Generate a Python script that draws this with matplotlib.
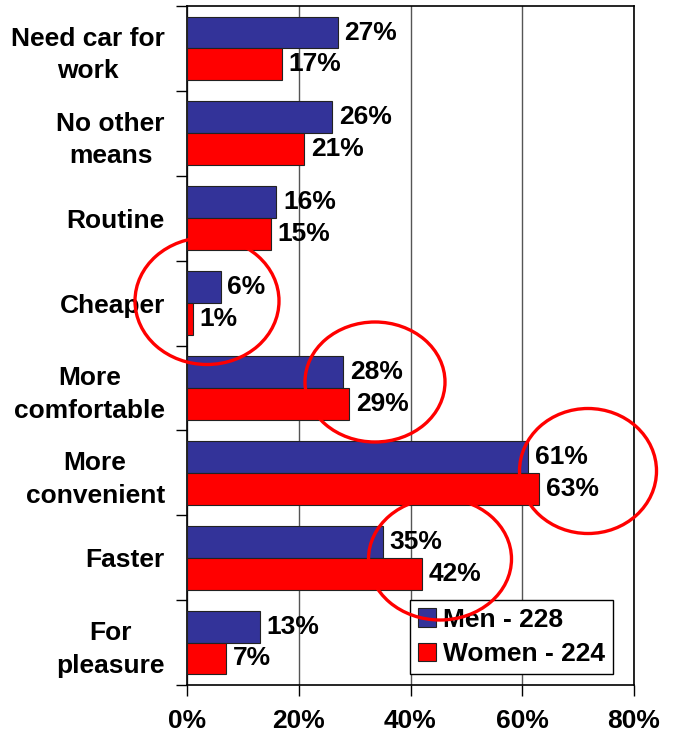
import matplotlib.pyplot as plt
from matplotlib.patches import Ellipse
import numpy as np

plt.rcParams['font.family'] = ['Liberation Sans', 'DejaVu Sans']
plt.rcParams['font.weight'] = 'bold'

categories = ['Need car for\nwork', 'No other\nmeans', 'Routine', 'Cheaper',
              'More\ncomfortable', 'More\nconvenient', 'Faster', 'For\npleasure']
men = [27, 26, 16, 6, 28, 61, 35, 13]
women = [17, 21, 15, 1, 29, 63, 42, 7]
xticks = [0, 20, 40, 60, 80]

fs = 19
fig = plt.figure(figsize=(6.74, 7.38), dpi=100)
ax = fig.add_axes([187/674, 1-685/738, 447/674, 679/738])

y = np.arange(len(categories))
h = 0.375
ax.barh(y - h/2, men, height=h, color='#333399', edgecolor='#222222', lw=0.8,
        label='Men - 228', zorder=3)
ax.barh(y + h/2, women, height=h, color='#ff0000', edgecolor='#222222', lw=0.8,
        label='Women - 224', zorder=3)

for i in range(len(categories)):
    ax.text(men[i] + 1.2, y[i] - h/2, f'{men[i]}%', va='center', ha='left',
            fontsize=fs, fontweight='bold', zorder=4)
    ax.text(women[i] + 1.2, y[i] + h/2, f'{women[i]}%', va='center', ha='left',
            fontsize=fs, fontweight='bold', zorder=4)

ax.set_xlim(0, 80)
ax.set_ylim(len(categories) - 0.5, -0.5)
ax.set_xticks(xticks)
ax.set_xticklabels([f'{t}%' for t in xticks], fontsize=fs, fontweight='bold')
ax.set_yticks(np.arange(len(categories) + 1) - 0.5)
ax.set_yticklabels([])
ax.set_yticks(y, minor=True)
ax.set_yticklabels(categories, minor=True, fontsize=fs, fontweight='bold',
                   ha='right', multialignment='center', linespacing=1.45)
ax.tick_params(axis='y', which='minor', length=0, pad=16)
ax.tick_params(axis='y', which='major', length=8, width=1)
ax.tick_params(axis='x', length=8, width=1, pad=9)
ax.grid(axis='x', color='#555555', lw=1, zorder=0)
for s in ax.spines.values():
    s.set_color('black')
    s.set_linewidth(1.2)

leg = fig.legend(loc='lower right', bbox_to_anchor=(613/674, 64/738),
                 fontsize=fs, frameon=True, fancybox=False,
                 handlelength=0.7, handleheight=0.7, handletextpad=0.25,
                 borderpad=0.3, labelspacing=0.4, borderaxespad=0.0,
                 framealpha=1)
leg.get_frame().set_edgecolor('black')
leg.get_frame().set_linewidth(1)
leg.set_zorder(5)

# red circles highlighting differences
for cx, cy, w, hh in [(207, 301, 144, 127), (375, 382, 140, 120),
                      (588, 471, 137, 125), (440, 559, 143, 122)]:
    e = Ellipse((cx, 738 - cy), w, hh, transform=None, fill=False,
                edgecolor='#ff0000', lw=2.4, zorder=6, clip_on=False)
    fig.add_artist(e)

fig.savefig('out.png', dpi=100)
